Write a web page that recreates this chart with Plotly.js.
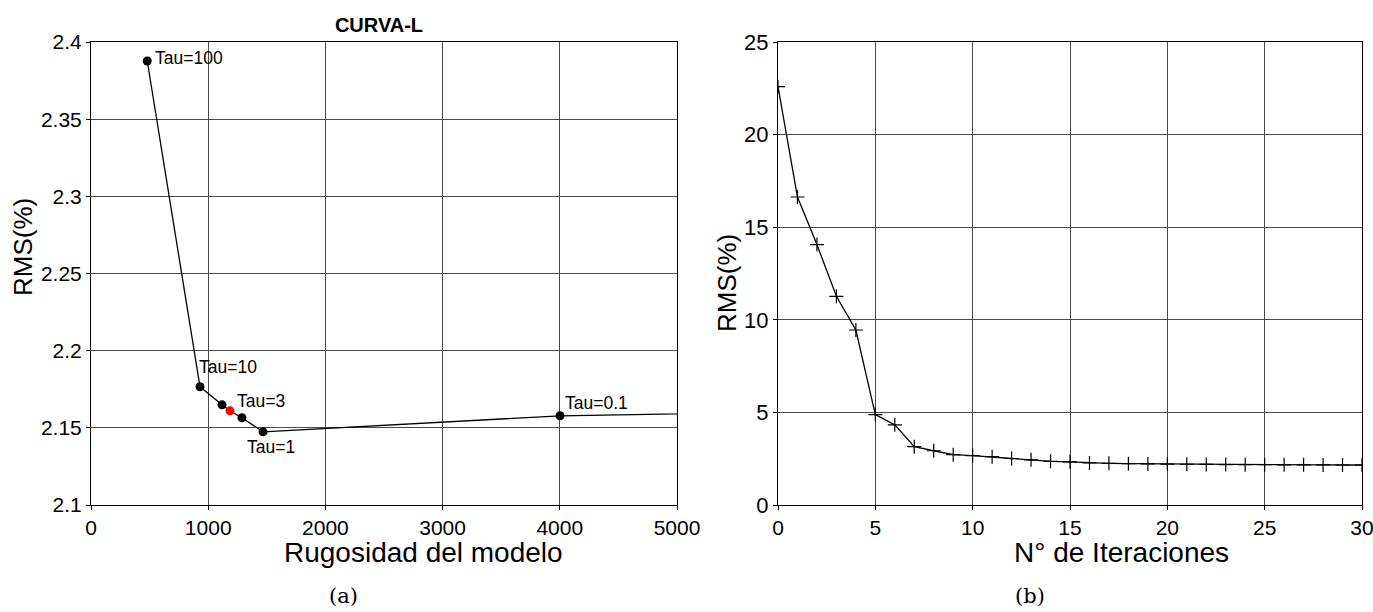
<!DOCTYPE html>
<html>
<head>
<meta charset="utf-8">
<script src="https://cdn.plot.ly/plotly-3.0.1.min.js"></script>
<style>html,body{margin:0;padding:0;background:#fff;}#chart{width:1373px;height:612px;}</style>
</head>
<body>
<div id="chart"></div>
<script>
// ---- Panel (a): L-curve ----
const rugosidad = [480, 930, 1118, 1186, 1288, 1468, 4002, 6500];
const rmsCurvaL = [2.3877, 2.1766, 2.1649, 2.1610, 2.1565, 2.1474, 2.1578, 2.1608];
const selectedIndex = 3;
const tauLabels = ["Tau=100", "Tau=10", "Tau=3", "Tau=1", "Tau=0.1"];
const tauLabelX = [529, 904, 1229, 1314, 4027];
const tauLabelY = [2.3896, 2.1895, 2.1672, 2.1377, 2.1662];
const xTicksA = [0, 1000, 2000, 3000, 4000, 5000];
const yTicksA = [2.1, 2.15, 2.2, 2.25, 2.3, 2.35, 2.4];

// ---- Panel (b): RMS vs iterations ----
const iteraciones = [0,1,2,3,4,5,6,7,8,9,10,11,12,13,14,15,16,17,18,19,20,21,22,23,24,25,26,27,28,29,30];
const rmsIter = [22.59, 16.63, 14.06, 11.27, 9.45, 4.88, 4.33, 3.15, 2.93, 2.72, 2.67, 2.61, 2.51, 2.44, 2.36, 2.33,
                 2.27, 2.25, 2.23, 2.22, 2.21, 2.20, 2.19, 2.185, 2.18, 2.175, 2.17, 2.17, 2.165, 2.16, 2.16];
const xTicksB = [0, 5, 10, 15, 20, 25, 30];
const yTicksB = [0, 5, 10, 15, 20, 25];

const W = 1373, H = 612;
const px = v => v / W, py = v => 1 - v / H;
const FONT = "Liberation Sans, Arial, sans-serif";

const markerColors = rugosidad.map((_, i) => i === selectedIndex ? "#ff0000" : "#000000");

const traces = [
  {
    x: rugosidad, y: rmsCurvaL, xaxis: "x", yaxis: "y",
    mode: "lines+markers", type: "scatter", cliponaxis: true,
    line: {color: "#000", width: 1.3},
    marker: {color: markerColors, size: 9},
    hoverinfo: "x+y", showlegend: false
  },
  {
    x: iteraciones, y: rmsIter, xaxis: "x2", yaxis: "y2",
    mode: "lines+markers", type: "scatter", cliponaxis: true,
    line: {color: "#000", width: 1.3},
    marker: {symbol: "cross-thin", size: 10, line: {color: "#000", width: 1.2}, color: "#000"},
    hoverinfo: "x+y", showlegend: false
  }
];

const axisCommon = {
  showline: true, mirror: true, linecolor: "#000", linewidth: 1,
  showgrid: true, gridcolor: "#4a4a4a", gridwidth: 1,
  zeroline: false, ticks: "outside", ticklen: 4, tickcolor: "#000",
  tickmode: "array", ticklabeloverflow: "allow"
};

const annotations = tauLabels.map((t, i) => ({
  x: tauLabelX[i], y: tauLabelY[i], xref: "x", yref: "y",
  text: t, showarrow: false, xanchor: "left", yanchor: "middle",
  font: {family: FONT, size: 17.5, color: "#000"}
}));

annotations.push(
  {x: px(423), y: py(552), xref: "paper", yref: "paper", text: "Rugosidad del modelo", showarrow: false,
   xanchor: "center", yanchor: "middle", font: {family: FONT, size: 28, color: "#000"}},
  {x: px(1121), y: py(552), xref: "paper", yref: "paper", text: "N° de Iteraciones", showarrow: false,
   xanchor: "center", yanchor: "middle", font: {family: FONT, size: 28, color: "#000"}},
  {x: px(23), y: py(247), xref: "paper", yref: "paper", text: "RMS(%)", showarrow: false, textangle: -90,
   xanchor: "center", yanchor: "middle", font: {family: FONT, size: 26, color: "#000"}},
  {x: px(727), y: py(283), xref: "paper", yref: "paper", text: "RMS(%)", showarrow: false, textangle: -90,
   xanchor: "center", yanchor: "middle", font: {family: FONT, size: 26, color: "#000"}},
  {x: px(343), y: py(596), xref: "paper", yref: "paper", text: "(a)", showarrow: false,
   xanchor: "center", yanchor: "middle", font: {family: "DejaVu Serif, Liberation Serif, serif", size: 21, color: "#000"}},
  {x: px(1030), y: py(596), xref: "paper", yref: "paper", text: "(b)", showarrow: false,
   xanchor: "center", yanchor: "middle", font: {family: "DejaVu Serif, Liberation Serif, serif", size: 21, color: "#000"}}
);

const layout = {
  width: W, height: H,
  margin: {l: 0, r: 0, t: 0, b: 0},
  paper_bgcolor: "#fff", plot_bgcolor: "#fff",
  font: {family: FONT, color: "#000"},
  showlegend: false,
  title: {text: "<b>CURVA-L</b>", x: px(379), xanchor: "center", xref: "paper",
          y: py(25), yanchor: "middle", yref: "container",
          font: {family: FONT, size: 20, color: "#000"}},
  xaxis: Object.assign({}, axisCommon, {
    domain: [px(91), px(677)], anchor: "y", range: [0, 5000],
    tickvals: xTicksA, ticktext: xTicksA.map(String),
    tickfont: {family: FONT, size: 21, color: "#000"}
  }),
  yaxis: Object.assign({}, axisCommon, {
    domain: [py(505), py(42)], anchor: "x", range: [2.1, 2.4],
    tickvals: yTicksA, ticktext: yTicksA.map(String),
    tickfont: {family: FONT, size: 21, color: "#000"}
  }),
  xaxis2: Object.assign({}, axisCommon, {
    domain: [px(778), px(1362)], anchor: "y2", range: [0, 30],
    tickvals: xTicksB, ticktext: xTicksB.map(String),
    tickfont: {family: FONT, size: 21, color: "#000"}
  }),
  yaxis2: Object.assign({}, axisCommon, {
    domain: [py(505), py(42)], anchor: "x2", range: [0, 25],
    tickvals: yTicksB, ticktext: yTicksB.map(String),
    tickfont: {family: FONT, size: 22, color: "#000"}
  }),
  annotations: annotations
};

Plotly.newPlot("chart", traces, layout, {staticPlot: true, displayModeBar: false});
</script>
</body>
</html>
